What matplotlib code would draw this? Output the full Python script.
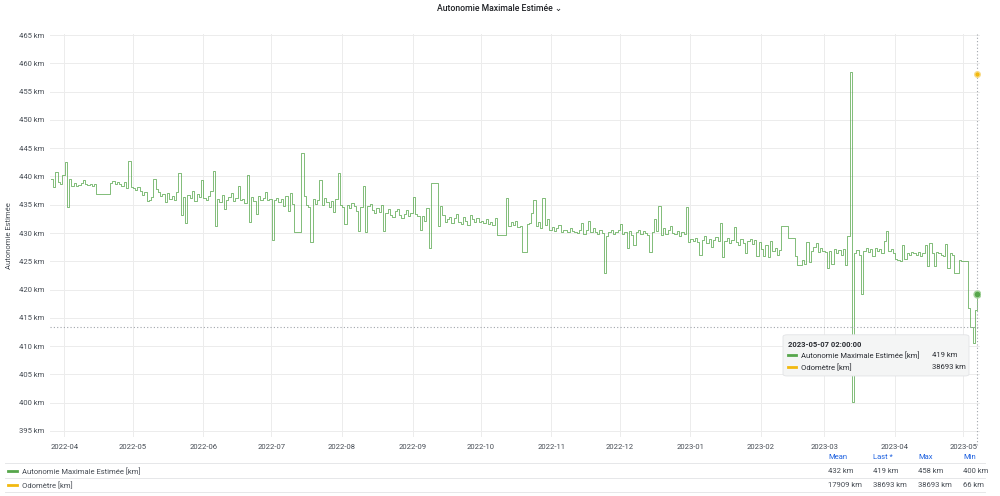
#!/usr/bin/env python3
import numpy as np
import pandas as pd
import matplotlib
matplotlib.use("Agg")
import matplotlib.pyplot as plt
import matplotlib.dates as mdates
from matplotlib.patches import FancyBboxPatch
from matplotlib.lines import Line2D

plt.rcParams["font.family"] = ["Roboto", "DejaVu Sans"]

# daily readings of the estimated max range (km), month by month
mar22 = [439.5, 438.2, 440.8, 439.0, 438.6, 440.2]
apr22 = [442.5, 434.6, 439.6, 438.4, 438.9, 438.3, 438.5, 438.8, 439.3, 438.6,
         438.5, 438.7, 438.4, 438.6, 436.9, 436.9, 436.9, 436.9, 436.9, 436.9,
         438.8, 439.2, 438.6, 439.0, 438.7, 438.4, 439.1, 437.9, 442.7, 438.2]
may22 = [438.0, 437.6, 438.2, 437.5, 436.8, 437.2, 435.7, 435.9, 436.4, 439.6,
         437.8, 437.2, 436.6, 436.9, 435.4, 437.0, 436.1, 436.5, 435.8, 437.3,
         440.6, 433.2, 436.4, 431.8, 436.8, 436.2, 437.5, 435.6, 436.9, 436.3,
         439.4]
jun22 = [436.2, 435.8, 436.6, 437.4, 441.0, 431.2, 436.0, 435.5, 436.8, 434.2,
         435.9, 436.4, 437.0, 435.6, 436.2, 438.4, 435.8, 436.1, 435.3, 440.2,
         432.0, 436.3, 435.7, 433.4, 436.5, 435.9, 436.2, 437.2, 435.8, 436.0]
jul22 = [428.8, 435.8, 436.2, 435.4, 436.0, 434.8, 436.6, 433.9, 437.0, 435.2,
         430.2, 430.2, 430.2, 444.2, 436.5, 435.0, 434.6, 428.4, 436.1, 435.2,
         435.8, 439.4, 434.9, 436.2, 435.5, 434.6, 435.7, 433.8, 436.0, 440.6,
         434.9]
aug22 = [434.6, 431.6, 435.0, 434.4, 435.3, 434.8, 433.9, 430.4, 434.6, 438.4,
         430.2, 434.8, 435.2, 434.0, 433.5, 434.4, 433.8, 435.0, 430.3, 433.6,
         434.2, 433.1, 432.8, 433.9, 434.3, 433.2, 432.6, 433.4, 434.1, 433.0,
         433.6]
sep22 = [436.4, 433.4, 433.0, 430.5, 433.0, 432.2, 434.4, 427.4, 438.8, 438.8,
         438.8, 431.2, 434.8, 433.2, 432.0, 432.4, 432.9, 431.8, 432.6, 433.4,
         432.0, 431.6, 432.8, 432.2, 431.5, 433.2, 432.4, 432.0, 432.6, 431.9]
oct22 = [432.2, 431.8, 432.4, 431.6, 432.0, 431.4, 432.6, 429.6, 429.6, 429.6,
         429.6, 436.2, 431.2, 432.0, 431.4, 432.2, 431.0, 431.3, 426.6, 426.6,
         431.6, 431.8, 433.6, 435.8, 431.2, 432.0, 430.8, 436.2, 431.4, 432.5,
         430.6]
nov22 = [431.0, 430.4, 430.8, 431.4, 430.2, 430.6, 430.6, 430.2, 430.9, 430.4,
         430.2, 430.0, 430.6, 431.8, 429.8, 430.6, 432.2, 430.2, 430.9, 430.1,
         429.8, 430.5, 430.0, 423.0, 429.4, 430.1, 430.6, 429.8, 430.2, 430.6]
dec22 = [431.6, 429.8, 430.2, 427.4, 430.4, 429.6, 427.8, 430.2, 430.6, 429.9,
         430.3, 430.0, 429.7, 426.6, 430.2, 432.4, 430.4, 434.8, 429.6, 430.8,
         429.9, 430.6, 431.2, 430.0, 429.8, 430.4, 429.5, 430.2, 429.8, 434.6,
         428.4]
jan23 = [429.0, 428.6, 429.2, 428.4, 426.2, 428.8, 429.4, 428.2, 428.9, 427.6,
         428.7, 429.3, 428.5, 431.8, 425.8, 428.6, 429.1, 428.3, 428.8, 431.0,
         428.4, 427.8, 428.9, 428.2, 426.4, 428.6, 429.0, 428.1, 428.7, 426.0,
         428.4]
feb23 = [427.2, 426.0, 427.8, 425.8, 428.6, 426.8, 427.4, 426.2, 427.0, 431.2,
         431.2, 431.2, 429.2, 429.2, 429.2, 426.0, 424.4, 424.4, 425.2, 424.6,
         428.4, 424.8, 426.8, 427.6, 428.2, 426.6, 427.4, 426.8]
mar23 = [426.6, 423.8, 426.8, 424.6, 427.2, 426.4, 427.0, 426.2, 427.2, 424.4,
         429.4, 458.4, 400.2, 426.4, 427.0, 426.2, 419.3, 426.8, 427.4, 426.6,
         427.2, 426.0, 427.4, 426.8, 427.2, 426.5, 428.6, 430.4, 426.8, 427.2,
         426.4]
apr23 = [425.4, 425.2, 425.0, 427.8, 425.4, 426.4, 426.2, 426.6, 426.4, 426.2,
         426.6, 426.0, 426.4, 427.8, 424.2, 428.2, 426.4, 424.2, 426.6, 426.4,
         426.2, 426.0, 428.0, 423.8, 426.4, 426.2, 423.0, 423.0, 425.2, 425.0]
may23 = [425.1, 425.0, 416.8, 413.4, 410.6, 416.4, 419.2]

autonomie = (mar22 + apr22 + may22 + jun22 + jul22 + aug22 + sep22 + oct22 + nov22
             + dec22 + jan23 + feb23 + mar23 + apr23 + may23)
odometre_last = 38693

series_names = ["Autonomie Maximale Estimée [km]", "Odomètre [km]"]
stat_headers = ["Mean", "Last *", "Max", "Min"]
stat_values = [["432 km", "419 km", "458 km", "400 km"],
               ["17909 km", "38693 km", "38693 km", "66 km"]]
hover_label = "2023-05-07 02:00:00"
hover_values = ["419 km", "38693 km"]
cursor_km = 413.3

GREEN = "#56a64b"
YELLOW = "#f2b90f"
TXT = "#464c54"
GRID = "#ececec"
BLUE = "#1f62e0"
FS = 5.5

dates = pd.date_range("2022-03-26 02:00", periods=len(autonomie), freq="D")

fig = plt.figure(figsize=(10, 4.96), dpi=100)
ax = fig.add_axes([0.05, 0.1198, 0.93, 0.8117])

ax.plot(dates, autonomie, color=GREEN, lw=0.7, alpha=0.75, drawstyle="steps-post")
ax.set_ylim(394, 465.2)
ax.set_xlim(pd.Timestamp("2022-03-25 16:00"), pd.Timestamp("2023-05-08 09:00"))
ax.set_yticks(np.arange(395, 466, 5))
ax.yaxis.set_major_formatter(plt.FuncFormatter(lambda v, p: f"{v:.0f} km"))
ax.xaxis.set_major_locator(mdates.MonthLocator())
ax.xaxis.set_major_formatter(mdates.DateFormatter("%Y-%m"))
ax.grid(True, color=GRID, lw=0.7)
for s in ax.spines.values():
    s.set_visible(False)
ax.tick_params(length=0, labelsize=FS, colors=TXT, pad=4)
ax.tick_params(axis="x", pad=5)
ax.set_ylabel("Autonomie Estimée", fontsize=FS, color=TXT)
ax.yaxis.set_label_coords(-0.041, 0.5)

# hover cursor
t_hover = dates[-1]
ax.axvline(t_hover, color="#a0a4aa", lw=0.8, ls=(0, (1, 2)), ymin=-0.02, ymax=1.0, clip_on=False)
ax.axhline(cursor_km, color="#a0a4aa", lw=0.8, ls=(0, (1, 2)))
ax.plot([t_hover], [autonomie[-1]], "o", ms=5, color=GREEN, mec="#a8d4a0", mew=1, zorder=5)

# odometer lives on its own hidden axis
ax2 = ax.twinx()
ax2.set_ylim(0, 43000)
ax2.axis("off")
ax2.plot([t_hover], [odometre_last], "o", ms=4, color=YELLOW, mec="#f8dc8a", mew=1)

# title
fig.text(0.5, 0.983, "Autonomie Maximale Estimée \u2304", ha="center", va="center",
         fontsize=6.2, color="#202226", fontweight="medium")

# tooltip
tip = FancyBboxPatch((0.783, 0.242), 0.186, 0.083, boxstyle="round,pad=0,rounding_size=0.004",
                     transform=fig.transFigure, fc="#f4f5f5", ec="#e2e3e5", lw=0.6, zorder=10)
fig.patches.append(tip)
fig.text(0.788, 0.306, hover_label, fontsize=FS, fontweight="bold", color="#2a2d33",
         va="center", zorder=11)
tip_rows = [0.284, 0.260]
for y, name, val, c in zip(tip_rows, series_names, hover_values, [GREEN, YELLOW]):
    fig.lines.append(Line2D([0.788, 0.796], [y, y], color=c, lw=2, transform=fig.transFigure, zorder=11))
    fig.text(0.801, y, name, fontsize=FS, color="#2a2d33", va="center", zorder=11)
    fig.text(0.932, y, val, fontsize=FS, color="#2a2d33", va="center", zorder=11)

# legend table
stat_x = [0.828, 0.873, 0.918, 0.963]
for x, h in zip(stat_x, stat_headers):
    fig.text(x, 1 - 457 / 496, h, fontsize=FS, color=BLUE, va="center")
for yp in [463, 478, 492]:
    fig.lines.append(Line2D([0.005, 0.985], [1 - yp / 496] * 2, color="#e6e7e9", lw=0.7,
                            transform=fig.transFigure))
for yp, name, c, vals in zip([471, 485], series_names, [GREEN, YELLOW], stat_values):
    yy = 1 - yp / 496
    fig.lines.append(Line2D([0.008, 0.017], [yy, yy], color=c, lw=2, transform=fig.transFigure))
    fig.text(0.022, yy, name, fontsize=FS, color=TXT, va="center")
    for x, v in zip(stat_x, vals):
        fig.text(x, yy, v, fontsize=FS, color=TXT, va="center")

fig.savefig("out.png", dpi=100, facecolor="white")
